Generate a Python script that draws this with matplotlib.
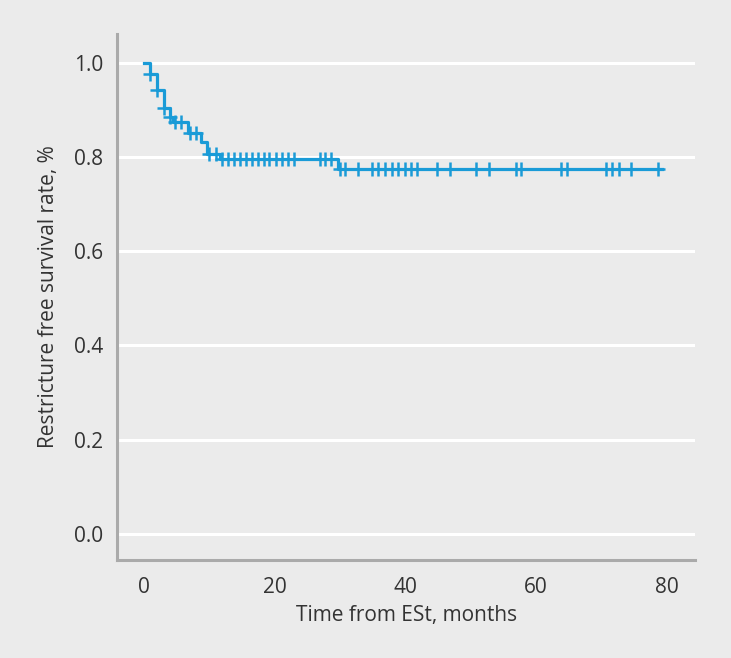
import numpy as np
import matplotlib
matplotlib.use('Agg')
import matplotlib.pyplot as plt

# Step points of the survival curve (time where it drops, level after drop)
eventTimes = [0.0, 0.9, 2.0, 3.0, 4.0, 4.4, 6.8, 8.8, 9.6, 11.6, 29.7]
survLevels = [1.0, 0.976, 0.942, 0.904, 0.885, 0.873, 0.850, 0.831, 0.806, 0.795, 0.774]
lastTime = 79.3

# Censored patients (the little + marks)
censorTimes = [0.9, 2.0, 3.0, 4.0, 4.8, 5.7, 7.0, 8.0, 10.0, 11.0,
               12.0, 12.9, 13.8, 14.7, 15.6, 16.5, 17.4, 18.3, 19.2, 20.2, 21.1, 22.0, 23.0,
               26.9, 27.7, 28.6,
               30.0, 30.8, 32.8, 34.9, 35.9, 36.9, 37.9, 38.9, 40.0, 40.9, 41.8, 44.9, 46.9,
               50.9, 52.9, 56.9, 57.7, 63.8, 64.7, 70.8, 71.7, 72.7, 74.6, 78.7]

xTicks = [0, 20, 40, 60, 80]
yTicks = [0.0, 0.2, 0.4, 0.6, 0.8, 1.0]

bg = '#ebebeb'
blue = '#1a9bd7'
spineGrey = '#aaaaaa'
textCol = '#333333'


def levelAt(t):
    # KM level right after time t
    idx = np.searchsorted(eventTimes, t, side='right') - 1
    return np.array(survLevels)[idx]


def makePlot():
    plt.rcParams['font.family'] = ['Open Sans', 'DejaVu Sans']

    fig = plt.figure(figsize=(7.31, 6.58), dpi=100, facecolor=bg)
    ax = fig.add_axes([0.160, 0.149, 0.791, 0.799])
    ax.set_facecolor(bg)

    ax.set_xlim(-4.14, 84.4)
    ax.set_ylim(-0.055, 1.06)

    # white horizontal grid
    for y in yTicks:
        ax.axhline(y, color='white', lw=2.2, zorder=1)

    xs = list(eventTimes) + [lastTime]
    ys = list(survLevels) + [survLevels[-1]]
    ax.step(xs, ys, where='post', color=blue, lw=2.3, zorder=3)

    cens = np.array(censorTimes)
    ax.plot(cens, levelAt(cens), linestyle='none', marker='+', markersize=9.5,
            markeredgewidth=1.8, color=blue, zorder=4)

    for side in ['top', 'right']:
        ax.spines[side].set_visible(False)
    for side in ['left', 'bottom']:
        ax.spines[side].set_color(spineGrey)
        ax.spines[side].set_linewidth(2.2)

    ax.set_xticks(xTicks)
    ax.set_yticks(yTicks)
    ax.set_yticklabels(['%.1f' % v for v in yTicks])
    ax.tick_params(length=0, labelsize=15, labelcolor=textCol)
    ax.tick_params(axis='y', pad=10)
    ax.tick_params(axis='x', pad=12)

    ax.set_xlabel('Time from ESt, months', fontsize=15, color=textCol, labelpad=5)
    ax.set_ylabel('Restricture free survival rate, %', fontsize=15, color=textCol, labelpad=11)

    fig.savefig('out.png', dpi=100, facecolor=bg)


def main():
    makePlot()
main()
